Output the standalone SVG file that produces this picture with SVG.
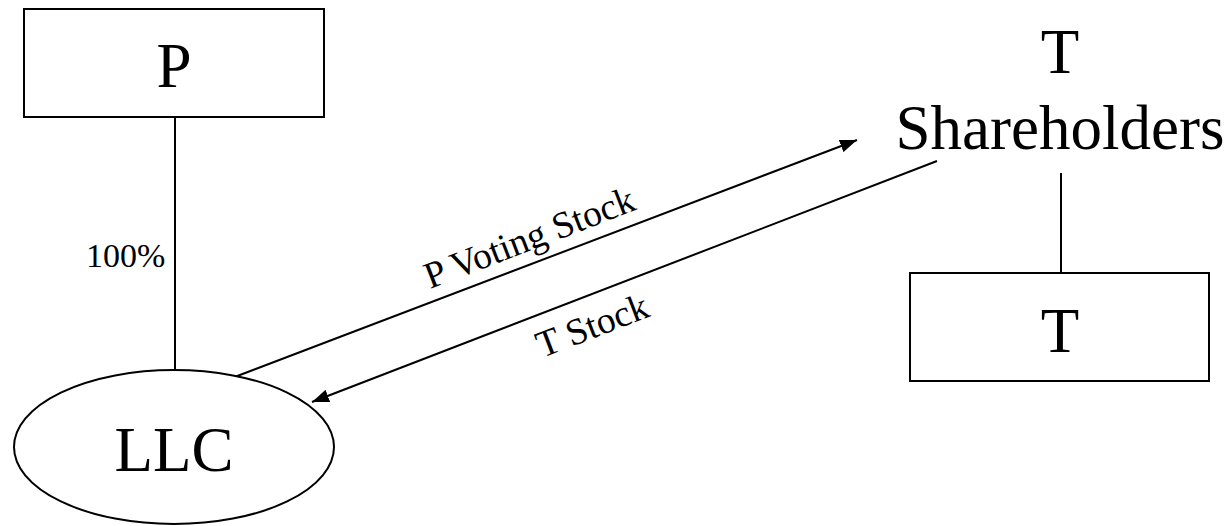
<svg xmlns="http://www.w3.org/2000/svg" width="1230" height="526" viewBox="0 0 1230 526">
<style>
.box{fill:#fff;stroke:#000;stroke-width:2}
.ln{fill:none;stroke:#000;stroke-width:2}
.big{font-family:"Liberation Serif","Times New Roman",serif;font-size:63px;fill:#000;text-anchor:middle}
.lbl{font-family:"Liberation Serif","Times New Roman",serif;font-size:37.5px;fill:#000}
.pct{font-family:"Liberation Serif","Times New Roman",serif;font-size:34px;fill:#000}
</style>
<defs>
<marker id="ah" viewBox="0 0 17 13" refX="17" refY="6.5" markerWidth="17" markerHeight="13" markerUnits="userSpaceOnUse" orient="auto">
<path d="M0,0 L17,6.5 L0,13 Z" fill="#000"/>
</marker>
</defs>
<rect width="1230" height="526" fill="#fff"/>
<g id="connectors">
<line class="ln" x1="175" y1="117" x2="175" y2="370"/>
<line class="ln" x1="1061" y1="173" x2="1061" y2="273"/>
<line class="ln" x1="232" y1="378" x2="857" y2="140" marker-end="url(#ah)"/>
<line class="ln" x1="937" y1="161" x2="312" y2="402" marker-end="url(#ah)"/>
<text class="pct" x="86" y="267">100%</text>
<text class="lbl" transform="translate(430,289) rotate(-21)">P Voting Stock</text>
<text class="lbl" transform="translate(542,358) rotate(-21)">T Stock</text>
</g>
<g id="node-P">
<rect class="box" x="24" y="9" width="300" height="108"/>
<text class="big" x="174" y="87">P</text>
</g>
<g id="node-LLC">
<ellipse class="box" cx="174" cy="447" rx="160" ry="77"/>
<text class="big" x="174" y="471">LLC</text>
</g>
<g id="node-TSH">
<text class="big" x="1060" y="73">T</text>
<text class="big" x="1060" y="149">Shareholders</text>
</g>
<g id="node-T">
<rect class="box" x="910" y="273" width="299" height="108"/>
<text class="big" x="1060" y="352">T</text>
</g>
</svg>
